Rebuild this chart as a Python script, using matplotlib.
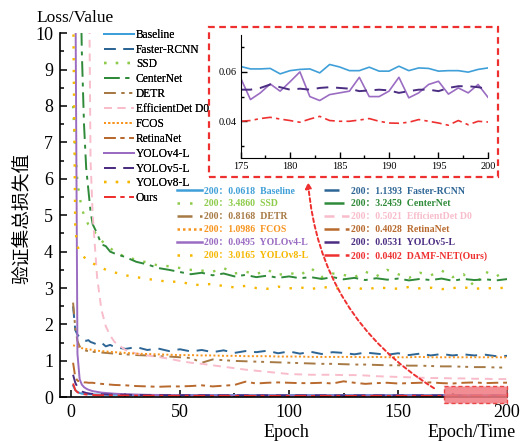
import numpy as np
import matplotlib
matplotlib.use('Agg')
import matplotlib.pyplot as plt
from matplotlib.lines import Line2D
from matplotlib.patches import Rectangle
from matplotlib.ticker import MultipleLocator, FormatStrFormatter

nan = np.nan

# epochs
epochs = [1, 2, 3, 4, 5, 6, 7, 8, 9, 10,
          12, 14, 16, 18, 20, 25, 30, 35, 40, 45,
          50, 55, 60, 65, 70, 75, 80, 85, 90, 95,
          100, 105, 110, 115, 120, 125, 130, 135, 140, 145,
          150, 155, 160, 165, 170, 175, 180, 185, 190, 195,
          200]

baseline = [0.32, 0.20, 0.15, 0.12, 0.10, 0.095, 0.09, 0.086, 0.083, 0.08,
            0.077, 0.075, 0.073, 0.071, 0.07, 0.068, 0.067, 0.066, 0.066, 0.065,
            0.065, 0.064, 0.064, 0.064, 0.063, 0.063, 0.063, 0.063, 0.062, 0.062,
            0.062, 0.062, 0.062, 0.062, 0.062, 0.061, 0.062, 0.062, 0.061, 0.062,
            0.061, 0.062, 0.061, 0.062, 0.061, 0.062, 0.061, 0.062, 0.060, 0.061,
            0.0618]
faster_rcnn = [2.5, 1.85, 1.72, 1.65, 1.6, 1.58, 1.55, 1.57, 1.52, 1.5,
               1.45, 1.5, 1.4, 1.44, 1.38, 1.33, 1.38, 1.3, 1.34, 1.27,
               1.32, 1.26, 1.3, 1.24, 1.29, 1.22, 1.27, 1.24, 1.28, 1.21,
               1.26, 1.2, 1.25, 1.19, 1.24, 1.22, 1.18, 1.23, 1.2, 1.17,
               1.21, 1.16, 1.2, 1.15, 1.19, 1.15, 1.18, 1.15, 1.17, 1.13,
               1.1393]
ssd = [8.0, 6.8, 5.9, 5.5, 5.2, 5.0, 4.85, 4.75, 4.7, 4.6,
       4.45, 4.3, 4.2, 4.1, 4.0, 3.85, 3.78, 3.7, 3.62, 3.6,
       3.55, 3.5, 3.48, 3.45, 3.55, 3.4, 3.45, 3.38, 3.5, 3.36,
       3.42, 3.35, 3.55, 3.3, 3.4, 3.36, 3.3, 3.45, 3.32, 3.5,
       3.38, 3.28, 3.42, 3.35, 3.48, 3.3, 3.38, 3.05, 3.45, 3.32,
       3.4860]
centernet = [nan, nan, nan, 13.0, 9.5, 7.5, 6.3, 5.7, 5.1, 4.75,
             4.5, 4.2, 4.15, 4.0, 3.95, 3.85, 3.72, 3.65, 3.55, 3.5,
             3.44, 3.38, 3.42, 3.35, 3.4, 3.32, 3.36, 3.3, 3.34, 3.28,
             3.32, 3.27, 3.3, 3.25, 3.3, 3.24, 3.28, 3.22, 3.27, 3.23,
             3.26, 3.21, 3.25, 3.22, 3.26, 3.2, 3.25, 3.22, 3.24, 3.21,
             3.2459]
detr = [2.6, 1.9, 1.55, 1.4, 1.32, 1.3, 1.28, 1.27, 1.26, 1.25,
        1.24, 1.23, 1.22, 1.21, 1.2, 1.18, 1.16, 1.15, 1.13, 1.12,
        1.1, 1.08, 0.95, 1.04, 1.02, 1.0, 0.99, 0.98, 0.97, 0.96,
        0.95, 0.94, 0.93, 0.92, 0.92, 0.91, 0.9, 0.9, 0.89, 0.88,
        0.88, 0.87, 0.87, 0.86, 0.85, 0.85, 0.84, 0.83, 0.83, 0.82,
        0.8168]
efficientdet = [nan, nan, nan, nan, nan, nan, nan, 14.0, 6.5, 5.0,
                3.3, 2.4, 1.95, 1.7, 1.52, 1.3, 1.2, 1.15, 1.11, 1.06,
                1.0, 0.95, 0.92, 0.88, 0.84, 0.8, 0.76, 0.73, 0.7, 0.67,
                0.64, 0.63, 0.62, 0.62, 0.62, 0.61, 0.61, 0.6, 0.58, 0.57,
                0.56, 0.55, 0.54, 0.53, 0.53, 0.52, 0.52, 0.51, 0.51, 0.5,
                0.5021]
fcos = [1.43, 1.41, 1.39, 1.37, 1.35, 1.34, 1.33, 1.32, 1.31, 1.3,
        1.28, 1.27, 1.26, 1.25, 1.24, 1.22, 1.2, 1.19, 1.18, 1.17,
        1.16, 1.16, 1.15, 1.15, 1.14, 1.14, 1.13, 1.13, 1.13, 1.12,
        1.12, 1.12, 1.11, 1.11, 1.11, 1.11, 1.11, 1.1, 1.11, 1.1,
        1.1, 1.1, 1.11, 1.1, 1.1, 1.1, 1.1, 1.1, 1.1, 1.1,
        1.0986]
retinanet = [0.95, 0.55, 0.46, 0.43, 0.42, 0.41, 0.41, 0.4, 0.4, 0.4,
             0.38, 0.37, 0.36, 0.35, 0.34, 0.33, 0.31, 0.3, 0.29, 0.3,
             0.3, 0.31, 0.33, 0.3, 0.32, 0.34, 0.43, 0.38, 0.4, 0.41,
             0.4, 0.39, 0.39, 0.4, 0.38, 0.44, 0.4, 0.37, 0.39, 0.4,
             0.38, 0.39, 0.4, 0.41, 0.39, 0.38, 0.4, 0.41, 0.39, 0.4,
             0.4028]
yolov4 = [14.0, 12.0, 1.2, 0.5, 0.35, 0.28, 0.24, 0.21, 0.19, 0.17,
          0.15, 0.13, 0.12, 0.11, 0.1, 0.085, 0.075, 0.068, 0.064, 0.06,
          0.058, 0.056, 0.055, 0.054, 0.053, 0.053, 0.052, 0.052, 0.052, 0.051,
          0.051, 0.052, 0.05, 0.053, 0.051, 0.05, 0.052, 0.05, 0.053, 0.051,
          0.05, 0.052, 0.051, 0.05, 0.053, 0.05, 0.052, 0.051, 0.05, 0.053,
          0.0495]
yolov5 = [0.62, 0.4, 0.28, 0.2, 0.16, 0.14, 0.12, 0.11, 0.1, 0.095,
          0.09, 0.085, 0.08, 0.077, 0.074, 0.07, 0.066, 0.063, 0.061, 0.06,
          0.059, 0.058, 0.057, 0.057, 0.056, 0.056, 0.055, 0.055, 0.055, 0.055,
          0.054, 0.055, 0.054, 0.054, 0.054, 0.054, 0.053, 0.054, 0.053, 0.054,
          0.053, 0.054, 0.053, 0.053, 0.054, 0.053, 0.053, 0.052, 0.054, 0.053,
          0.0531]
yolov8 = [11.0, 4.6, 4.15, 4.0, 3.9, 3.85, 3.8, 3.75, 3.72, 3.68,
          3.62, 3.57, 3.5, 3.46, 3.43, 3.35, 3.3, 3.25, 3.21, 3.17,
          3.18, 3.1, 3.08, 3.12, 3.05, 3.02, 3.06, 3.0, 2.98, 3.04,
          2.99, 3.02, 2.97, 3.03, 3.0, 2.98, 3.02, 2.96, 3.01, 3.0,
          2.98, 3.03, 2.99, 3.01, 2.97, 3.0, 3.02, 2.98, 3.0, 2.99,
          3.0165]
ours = [0.38, 0.2, 0.14, 0.11, 0.095, 0.085, 0.078, 0.072, 0.068, 0.065,
        0.06, 0.057, 0.055, 0.053, 0.051, 0.048, 0.046, 0.045, 0.044, 0.043,
        0.043, 0.042, 0.042, 0.042, 0.041, 0.041, 0.041, 0.041, 0.041, 0.04,
        0.04, 0.041, 0.04, 0.04, 0.041, 0.04, 0.04, 0.041, 0.04, 0.04,
        0.04, 0.041, 0.04, 0.04, 0.04, 0.04, 0.041, 0.04, 0.039, 0.04,
        0.0402]

# zoomed window, epochs 175-200
inset_epochs = list(range(175, 201))
inset_baseline = [0.0622, 0.0612, 0.0612, 0.0614, 0.0592, 0.0605, 0.0610, 0.0612, 0.0596,
                  0.0630, 0.0620, 0.0605, 0.0605, 0.0619, 0.0603, 0.0603, 0.0623, 0.0605,
                  0.0616, 0.0614, 0.0603, 0.0605, 0.0605, 0.0599, 0.0610, 0.0616]
inset_yolov4 = [0.0576, 0.0488, 0.0515, 0.0551, 0.0522, 0.0560, 0.0600, 0.0500, 0.0484,
                0.0508, 0.0515, 0.0522, 0.0578, 0.0500, 0.0500, 0.0522, 0.0578, 0.0495,
                0.0515, 0.0549, 0.0562, 0.0510, 0.0535, 0.0515, 0.0549, 0.0497]
inset_yolov5 = [0.0528, 0.0528, 0.0535, 0.0549, 0.0538, 0.0528, 0.0532, 0.0528, 0.0535,
                0.0538, 0.0535, 0.0532, 0.0522, 0.0525, 0.0528, 0.0525, 0.0515, 0.0522,
                0.0528, 0.0528, 0.0522, 0.0535, 0.0542, 0.0542, 0.0538, 0.0531]
inset_ours = [0.0400, 0.0403, 0.0411, 0.0416, 0.0409, 0.0403, 0.0396, 0.0409, 0.0420,
              0.0403, 0.0400, 0.0400, 0.0405, 0.0411, 0.0400, 0.0393, 0.0392, 0.0396,
              0.0407, 0.0400, 0.0393, 0.0384, 0.0403, 0.0386, 0.0400, 0.0397]

names = ['Baseline', 'Faster-RCNN', 'SSD', 'CenterNet', 'DETR', 'EfficientDet D0',
         'FCOS', 'RetinaNet', 'YOLOv4-L', 'YOLOv5-L', 'YOLOv8-L', 'Ours']
names2 = names[:-1] + ['DAMF-NET(Ours)']
data = [baseline, faster_rcnn, ssd, centernet, detr, efficientdet,
        fcos, retinanet, yolov4, yolov5, yolov8, ours]

colors = ['#3f9fd8', '#2d6595', '#8dcb4a', '#2f8a3a', '#a77a45', '#f8bccb',
          '#f7941d', '#b8692e', '#9a6cc2', '#4b2d82', '#f5b700', '#ee3030']
styles = ['-', (0, (6, 4)), (0, (1, 4)), (0, (8, 3, 2, 3)), (0, (6, 3, 1.5, 2.5, 1.5, 3)),
          (0, (4, 3)), (0, (1, 1.2)), (0, (6, 2.5, 2, 2.5)), '-', (0, (6, 4)),
          (0, (1, 4)), (0, (6, 2.5, 2, 2.5))]

serif = 'Liberation Serif'
plt.rcParams['font.family'] = serif

fig = plt.figure(figsize=(5.31, 4.41), dpi=100)
ax = fig.add_axes([0.113, 0.099, 0.842, 0.826])

handles = []
for name, vals, c, ls in zip(names, data, colors, styles):
    lw = 1.7 if ls in [(0, (1, 4))] else 1.4
    h, = ax.plot(epochs, vals, color=c, linestyle=ls, linewidth=lw, label=name)
    handles.append(h)

ax.set_xlim(-5, 200)
ax.set_ylim(0, 10)
ax.xaxis.set_major_locator(MultipleLocator(50))
ax.xaxis.set_minor_locator(MultipleLocator(25))
ax.yaxis.set_major_locator(MultipleLocator(1))
ax.yaxis.set_minor_locator(MultipleLocator(0.5))
ax.tick_params(which='both', direction='in', width=1.1, labelsize=13, pad=5)
ax.tick_params(which='major', length=5)
ax.tick_params(which='minor', length=3)
for s in ['top', 'right']:
    ax.spines[s].set_visible(False)
for s in ['left', 'bottom']:
    ax.spines[s].set_linewidth(1.2)

# highlighted region
ax.add_patch(Rectangle((171, -0.15), 29, 0.45, facecolor='#f07a80', alpha=0.85,
                       edgecolor='#e83030', linestyle=(0, (3, 2)), linewidth=1.0,
                       clip_on=False, zorder=5))

# first legend
leg1 = ax.legend(handles=handles, loc='upper left', bbox_to_anchor=(0.195, 0.935),
                 bbox_transform=fig.transFigure, frameon=False, fontsize=8.3,
                 handlelength=2.6, handletextpad=0.2, labelspacing=0.25,
                 borderpad=0, borderaxespad=0)
ax.add_artist(leg1)

# second legend with final values
order = [0, 2, 4, 6, 8, 10, 1, 3, 5, 7, 9, 11]
proxies = []
labels2 = []
for i in order:
    proxies.append(Line2D([], [], color=colors[i], linestyle=styles[i], linewidth=1.8))
    labels2.append('200：%.4f  %s' % (data[i][-1], names2[i]))
prop2 = {'family': [serif, 'Noto Sans CJK SC'], 'weight': 'bold', 'size': 7}
fig.legend(proxies, labels2, loc='upper left', bbox_to_anchor=(0.333, 0.577),
           ncol=2, frameon=False, prop=prop2, labelcolor='linecolor',
           handlelength=2.6, handletextpad=0.2, labelspacing=0.4,
           columnspacing=1.6, borderpad=0, borderaxespad=0)

# texts
fig.text(0.141, 0.959, 'Loss/Value', fontsize=12.5, ha='center', va='center')
fig.text(0.540, 0.020, 'Epoch', fontsize=13, ha='center', va='center')
fig.text(0.889, 0.020, 'Epoch/Time', fontsize=13, ha='center', va='center')
fig.text(0.040, 0.505, '验证集总损失值', rotation=90, fontsize=13.5, ha='center',
         va='center', family=['Noto Sans CJK SC', 'DejaVu Sans'])

# dashed frame around inset
fig.add_artist(Rectangle((0.394, 0.599), 0.544, 0.340, transform=fig.transFigure,
                         fill=False, edgecolor='#ee3030', linestyle=(0, (3, 2)),
                         linewidth=1.6))

# curved arrow from highlighted region to inset
ax.annotate('', xy=(308 / 531, 1 - 182 / 441), xycoords='figure fraction',
            xytext=(166.5, 0.25), textcoords='data',
            arrowprops=dict(arrowstyle='-|>', color='#ee3030', linestyle=(0, (2, 1.5)),
                            linewidth=1.4, mutation_scale=9,
                            connectionstyle='arc3,rad=-0.25', shrinkA=0, shrinkB=0))

# inset axes
axin = fig.add_axes([0.453, 0.641, 0.466, 0.280])
axin.plot(inset_epochs, inset_baseline, color=colors[0], linewidth=1.2)
axin.plot(inset_epochs, inset_yolov4, color=colors[8], linewidth=1.2)
axin.plot(inset_epochs, inset_yolov5, color=colors[9], linestyle=(0, (6, 4)), linewidth=1.4)
axin.plot(inset_epochs, inset_ours, color=colors[11], linestyle=(0, (6, 2.5, 2, 2.5)), linewidth=1.2)
axin.set_xlim(175, 200)
axin.set_ylim(0.025, 0.075)
axin.xaxis.set_major_locator(MultipleLocator(5))
axin.xaxis.set_minor_locator(MultipleLocator(2.5))
axin.yaxis.set_major_locator(MultipleLocator(0.02))
axin.yaxis.set_minor_locator(MultipleLocator(0.01))
axin.yaxis.set_major_formatter(FormatStrFormatter('%.2f'))
axin.tick_params(which='both', direction='in', width=1.0, labelsize=7.5, pad=3)
axin.tick_params(which='major', length=4)
axin.tick_params(which='minor', length=2.5)
axin.patch.set_alpha(0)
for s in ['top', 'right']:
    axin.spines[s].set_visible(False)

fig.savefig('out.png', dpi=100)
